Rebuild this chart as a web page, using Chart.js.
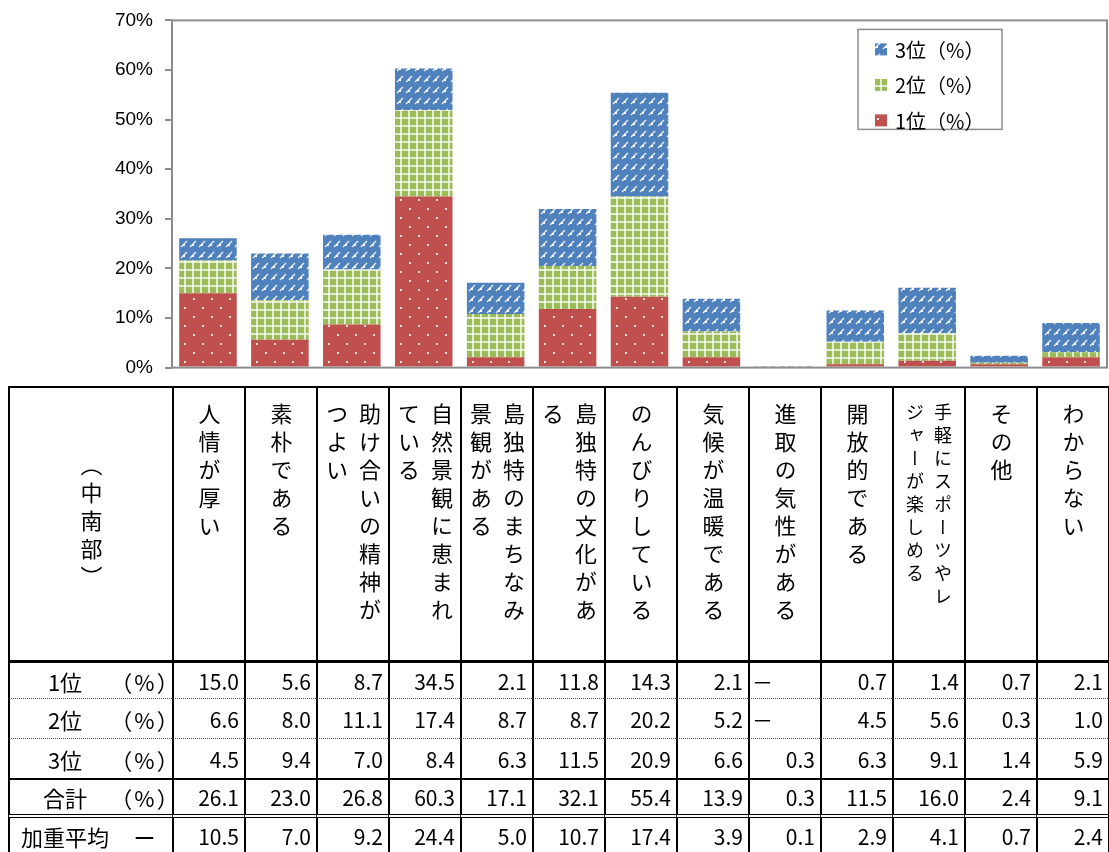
<!DOCTYPE html>
<html lang="ja">
<head>
<meta charset="utf-8">
<script src="https://cdn.jsdelivr.net/npm/chart.js@4.4.1/dist/chart.umd.min.js"></script>
<style>
  html, body { margin: 0; padding: 0; background: #fff; overflow: hidden; }
  body { width: 1109px; height: 852px; position: relative; font-family: "Noto Sans CJK JP", sans-serif; color: #000; }
  #rankChart { position: absolute; left: 0; top: -3px; }
  #rankTable {
    position: absolute; left: 8px; top: 386px;
    display: grid;
    grid-template-columns: 164px repeat(13, 72px);
    grid-template-rows: 274px 38px 40px 40px 36px 40px;
    border-right: 2px solid #000;
  }
  .cell {
    box-sizing: border-box;
    border-left: 2px solid #000;
    border-top: 2px solid #000;
    display: flex; align-items: center; justify-content: flex-end;
    padding-right: 5px;
    font-size: 21px;
    font-feature-settings: "palt";
    white-space: nowrap;
  }
  .cell.head { align-items: flex-start; justify-content: center; padding: 15px 0 0 0; }
  .cell.corner { align-items: center; justify-content: center; padding: 0; }
  .vt { writing-mode: vertical-rl; font-size: 22px; line-height: 33px; letter-spacing: 6px; font-feature-settings: normal; }
  .vt.small { font-size: 18px; line-height: 28px; letter-spacing: 5px; }
  .cell.rowhead { justify-content: flex-start; padding: 0; font-size: 22px; }
  .rowhead .lab { width: 110px; text-align: center; }
  .rowhead .unit { width: 52px; text-align: center; letter-spacing: 3px; }
  .cell.dash { justify-content: flex-start; padding: 0 0 0 2px; }
  .r1 { border-top: 3px solid #000; }
  .r2, .r3 { border-top: 1px dotted #555; }
  .r4 { border-top: 2px solid #000; }
  .r5 { border-top: 4px double #000; }
</style>
</head>
<body>
<canvas id="rankChart" width="1109" height="394"></canvas>
<div id="rankTable"></div>
<script>
// 項目（表の見出し、縦書き。配列の要素ごとに改行）
const categories = [
  ['人情が厚い'],
  ['素朴である'],
  ['助け合いの精神が', 'つよい'],
  ['自然景観に恵まれ', 'ている'],
  ['島独特のまちなみ', '景観がある'],
  ['島独特の文化があ', 'る'],
  ['のんびりしている'],
  ['気候が温暖である'],
  ['進取の気性がある'],
  ['開放的である'],
  ['手軽にスポーツやレ', 'ジャーが楽しめる'],
  ['その他'],
  ['わからない']
];
const regionLabel = '（中南部）';

const rank1 = [15.0, 5.6, 8.7, 34.5, 2.1, 11.8, 14.3, 2.1, null, 0.7, 1.4, 0.7, 2.1];
const rank2 = [6.6, 8.0, 11.1, 17.4, 8.7, 8.7, 20.2, 5.2, null, 4.5, 5.6, 0.3, 1.0];
const rank3 = [4.5, 9.4, 7.0, 8.4, 6.3, 11.5, 20.9, 6.6, 0.3, 6.3, 9.1, 1.4, 5.9];
const totals = [26.1, 23.0, 26.8, 60.3, 17.1, 32.1, 55.4, 13.9, 0.3, 11.5, 16.0, 2.4, 9.1];
const weightedAvg = [10.5, 7.0, 9.2, 24.4, 5.0, 10.7, 17.4, 3.9, 0.1, 2.9, 4.1, 0.7, 2.4];

const seriesLabels = ['1位（%）', '2位（%）', '3位（%）'];
const yMax = 70;
const yStep = 10;

// パターン塗り
const makePattern = (w, h, base, draw) => {
  const c = document.createElement('canvas');
  c.width = w; c.height = h;
  const g = c.getContext('2d');
  g.fillStyle = base;
  g.fillRect(0, 0, w, h);
  draw(g);
  return g.createPattern(c, 'repeat');
};

const dotPattern = makePattern(18, 18, '#C0504D', (g) => {
  g.fillStyle = 'rgba(255,255,255,0.85)';
  g.fillRect(4, 4, 2, 2);
  g.fillRect(13, 13, 2, 2);
});

const gridPattern = makePattern(8, 8, '#9BBB59', (g) => {
  g.fillStyle = 'rgba(255,255,255,0.7)';
  g.fillRect(0, 0, 8, 2);
  g.fillRect(0, 0, 2, 8);
});

const diagPattern = makePattern(9, 11, '#4F81BD', (g) => {
  g.strokeStyle = 'rgba(255,255,255,0.85)';
  g.lineWidth = 1.4;
  g.beginPath();
  g.moveTo(1, 8);
  g.lineTo(7, 2);
  g.stroke();
  g.fillStyle = '#fff';
  g.fillRect(3, 5, 2, 2);
});

// 枠線（プロットエリア）
const plotBorder = {
  id: 'plotBorder',
  afterDatasetsDraw(chart) {
    const {ctx, chartArea} = chart;
    ctx.save();
    ctx.strokeStyle = '#8c8c8c';
    ctx.lineWidth = 2;
    ctx.strokeRect(chartArea.left, chartArea.top, chartArea.right - chartArea.left, chartArea.bottom - chartArea.top);
    ctx.restore();
  }
};

// 凡例（枠付き、3位が上）
const legendBox = {
  id: 'legendBox',
  afterDraw(chart) {
    const {ctx, chartArea} = chart;
    const x = chartArea.right - 249;
    const y = chartArea.top + 9;
    ctx.save();
    ctx.fillStyle = '#fff';
    ctx.fillRect(x, y, 144, 100);
    ctx.strokeStyle = '#8c8c8c';
    ctx.lineWidth = 1.5;
    ctx.strokeRect(x, y, 144, 100);
    const sets = chart.data.datasets.slice().reverse();
    sets.forEach((ds, i) => {
      const cy = y + 20 + i * 35.5;
      ctx.fillStyle = ds.backgroundColor;
      ctx.fillRect(x + 17, cy - 6, 12, 12);
      ctx.fillStyle = '#000';
      ctx.font = '20px "Noto Sans CJK JP"';
      ctx.textBaseline = 'middle';
      ctx.textAlign = 'left';
      ctx.fillText(ds.label, x + 37, cy + 1);
    });
    ctx.restore();
  }
};

const ctx = document.getElementById('rankChart').getContext('2d');

const rankChart = new Chart(ctx, {
  type: 'bar',
  data: {
    labels: categories.map((c) => c.join('')),
    datasets: [
      { label: seriesLabels[0], data: rank1, backgroundColor: dotPattern },
      { label: seriesLabels[1], data: rank2, backgroundColor: gridPattern },
      { label: seriesLabels[2], data: rank3, backgroundColor: diagPattern }
    ]
  },
  options: {
    responsive: false,
    animation: false,
    devicePixelRatio: 1,
    layout: { padding: { top: 0, right: 2, bottom: 0, left: 0 } },
    datasets: { bar: { barPercentage: 0.8, categoryPercentage: 1, borderWidth: 0 } },
    plugins: { legend: { display: false }, tooltip: { enabled: false } },
    scales: {
      x: { stacked: true, display: false },
      y: {
        stacked: true,
        min: 0,
        max: yMax,
        afterFit: (scale) => { scale.width = 172; },
        border: { display: false },
        grid: { drawOnChartArea: false, drawTicks: true, tickLength: 7, color: '#8c8c8c', lineWidth: 2 },
        ticks: {
          stepSize: yStep,
          padding: 12,
          color: '#000',
          font: { family: '"Liberation Sans", Arial', size: 19 },
          callback: (v) => v + '%'
        }
      }
    }
  },
  plugins: [plotBorder, legendBox]
});

// 表
const tableRows = [
  { label: '1位', unit: '（%）', values: rank1, cls: 'r1' },
  { label: '2位', unit: '（%）', values: rank2, cls: 'r2' },
  { label: '3位', unit: '（%）', values: rank3, cls: 'r3' },
  { label: '合計', unit: '（%）', values: totals, cls: 'r4' },
  { label: '加重平均', unit: 'ー', values: weightedAvg, cls: 'r5' }
];

const table = document.getElementById('rankTable');
let html = '<div class="cell corner"><span class="vt">' + regionLabel + '</span></div>';
categories.forEach((lines) => {
  const small = lines.join('').length > 14 ? ' small' : '';
  html += '<div class="cell head"><span class="vt' + small + '">' + lines.join('<br>') + '</span></div>';
});
tableRows.forEach((row) => {
  html += '<div class="cell rowhead ' + row.cls + '"><span class="lab">' + row.label + '</span><span class="unit">' + row.unit + '</span></div>';
  row.values.forEach((v) => {
    if (v === null) {
      html += '<div class="cell dash ' + row.cls + '">－</div>';
    } else {
      html += '<div class="cell ' + row.cls + '">' + v.toFixed(1) + '</div>';
    }
  });
});
table.innerHTML = html;
</script>
</body>
</html>
